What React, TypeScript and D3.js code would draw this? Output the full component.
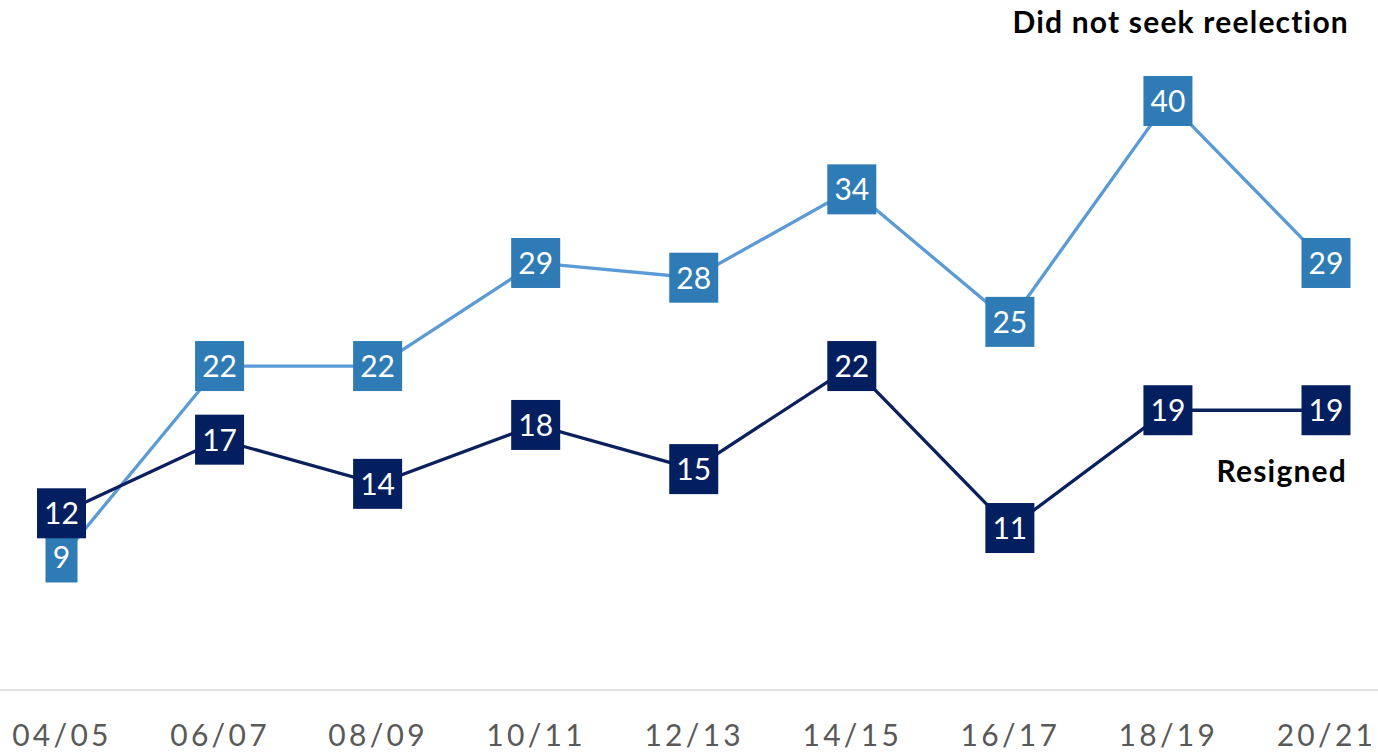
import React from "react";
import * as d3 from "d3";

const categories = ["04/05", "06/07", "08/09", "10/11", "12/13", "14/15", "16/17", "18/19", "20/21"];
const didNotSeek = [9, 22, 22, 29, 28, 34, 25, 40, 29];
const resigned = [12, 17, 14, 18, 15, 22, 11, 19, 19];

const W = 1378;
const H = 753;

const series = [
  { name: "Did not seek reelection", values: didNotSeek, line: "#5B9BD5", box: "#2E7BB6" },
  { name: "Resigned", values: resigned, line: "#0A215E", box: "#031F5F" },
];

export default function App() {
  const x = d3.scalePoint<string>().domain(categories).range([61.5, 1326]);
  const y = d3.scaleLinear().domain([0, 40]).range([690, 101]);
  const line = d3
    .line<number>()
    .x((_, i) => x(categories[i]) as number)
    .y((d) => y(d));

  const font = "Lato, 'Open Sans', sans-serif";

  return (
    <svg
      width={W}
      height={H}
      style={{ position: "absolute", left: 0, top: 0, background: "#fff" }}
    >
      <line x1={0} x2={W} y1={y(0)} y2={y(0)} stroke="#d9d9d9" strokeWidth={1.5} />
      {categories.map((c) => (
        <text
          key={c}
          x={(x(c) as number) + 0.5}
          y={746}
          textAnchor="middle"
          fontFamily={font}
          fontSize={30}
          fill="#595959"
          letterSpacing={3.3}
        >
          {c}
        </text>
      ))}
      {series.map((s) => (
        <g key={s.name}>
          <path d={line(s.values) || ""} fill="none" stroke={s.line} strokeWidth={3.3} />
        </g>
      ))}
      {series.map((s) => (
        <g key={s.name + "-labels"}>
          {s.values.map((v, i) => {
            const cx = x(categories[i]) as number;
            const cy = y(v);
            const label = String(v);
            const w = label.length * 17 + 15;
            const h = 50;
            return (
              <g key={i}>
                <rect x={cx - w / 2} y={cy - h / 2} width={w} height={h} fill={s.box} />
                <text
                  x={cx}
                  y={cy + 11}
                  textAnchor="middle"
                  fontFamily={font}
                  fontSize={30}
                  fill="#ffffff"
                >
                  {label}
                </text>
              </g>
            );
          })}
        </g>
      ))}
      <text
        x={1349}
        y={33}
        textAnchor="end"
        fontFamily={font}
        fontWeight={700}
        fontSize={30}
        letterSpacing={1.2}
        fill="#000"
      >
        Did not seek reelection
      </text>
      <text
        x={1347}
        y={482}
        textAnchor="end"
        fontFamily={font}
        fontWeight={700}
        fontSize={30}
        letterSpacing={1.2}
        fill="#000"
      >
        Resigned
      </text>
    </svg>
  );
}
